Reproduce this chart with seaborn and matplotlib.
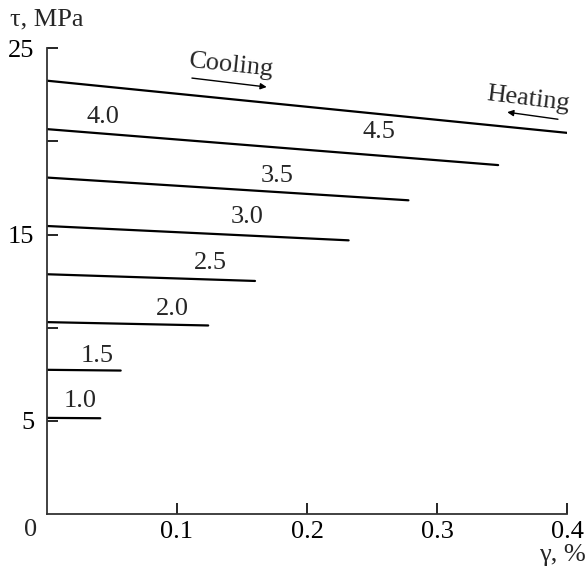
import matplotlib
matplotlib.use("Agg")
import matplotlib.pyplot as plt
import seaborn as sns
import pandas as pd

# Data: each segment (start x, start y) -> (end x, end y)
seg_labels = ["top", "4.0", "3.5", "3.0", "2.5", "2.0", "1.5", "1.0"]
x_start = [0.0, 0.0, 0.0, 0.0, 0.0, 0.0, 0.0, 0.0]
x_end = [0.400, 0.347, 0.278, 0.232, 0.160, 0.124, 0.0567, 0.041]
y_start = [23.26, 20.66, 18.06, 15.46, 12.87, 10.30, 7.74, 5.16]
y_end = [20.46, 18.73, 16.84, 14.69, 12.51, 10.12, 7.70, 5.14]

# Line labels and their positions
lbl_text = ["1.0", "1.5", "2.0", "2.5", "3.0", "3.5", "4.0", "4.5"]
lbl_x = [0.0254, 0.0385, 0.0965, 0.126, 0.154, 0.177, 0.043, 0.255]
lbl_y = [6.04, 8.46, 10.98, 13.48, 15.93, 18.13, 21.31, 20.50]

x_ticks = [0.1, 0.2, 0.3, 0.4]
x_ticklabels = ["0.1", "0.2", "0.3", "0.4"]
y_ticks = [5, 10, 15, 20, 25]
y_ticklabels = ["5", "", "15", "", "25"]

rows = []
for i, s in enumerate(seg_labels):
    rows.append({"seg": s, "x": x_start[i], "y": y_start[i]})
    rows.append({"seg": s, "x": x_end[i], "y": y_end[i]})
df = pd.DataFrame(rows)

sns.set_style("ticks")
plt.rcParams["font.family"] = ["Liberation Serif", "DejaVu Serif"]

FS = 19

fig = plt.figure(figsize=(5.87, 5.72), dpi=100)
ax = fig.add_axes([0.080, 0.1014, 0.886, 0.8142])

sns.lineplot(data=df, x="x", y="y", units="seg", estimator=None,
             color="black", linewidth=1.6, ax=ax, legend=False, sort=False)

ax.set_xlim(0, 0.4)
ax.set_ylim(0, 25)
ax.set_xticks(x_ticks)
ax.set_xticklabels(x_ticklabels)
ax.set_yticks(y_ticks)
ax.set_yticklabels(y_ticklabels)
ax.tick_params(direction="in", length=8, width=1.2, labelsize=FS, colors="black")
ax.tick_params(axis="x", pad=5)
ax.tick_params(axis="y", pad=9)
ax.set_xlabel("")
ax.set_ylabel("")
for side in ["top", "right"]:
    ax.spines[side].set_visible(False)
for side in ["left", "bottom"]:
    ax.spines[side].set_linewidth(1.3)
    ax.spines[side].set_color("#333333")

for t, xx, yy in zip(lbl_text, lbl_x, lbl_y):
    ax.text(xx, yy, t, ha="center", va="center", fontsize=FS)

# Cooling / Heating annotations
ax.text(0.1415, 24.05, "Cooling", ha="center", va="center", fontsize=FS, rotation=-6)
ax.annotate("", xy=(0.169, 22.92), xytext=(0.1115, 23.40),
            arrowprops=dict(arrowstyle="-|>", color="black", lw=1.0,
                            mutation_scale=9, shrinkA=0, shrinkB=0))
ax.text(0.370, 22.27, "Heating", ha="center", va="center", fontsize=FS, rotation=-7)
ax.annotate("", xy=(0.354, 21.57), xytext=(0.393, 21.19),
            arrowprops=dict(arrowstyle="-|>", color="black", lw=1.0,
                            mutation_scale=9, shrinkA=0, shrinkB=0))

# origin label and axis titles
fig.text(31 / 587, 1 - 530 / 572, "0", ha="center", va="center", fontsize=FS)
fig.text(10 / 587, 1 - 19 / 572, "τ, MPa", ha="left", va="center", fontsize=FS)
fig.text(586 / 587, 1 - 555 / 572, "γ, %", ha="right", va="center", fontsize=FS)

fig.savefig("out.png", dpi=100)
